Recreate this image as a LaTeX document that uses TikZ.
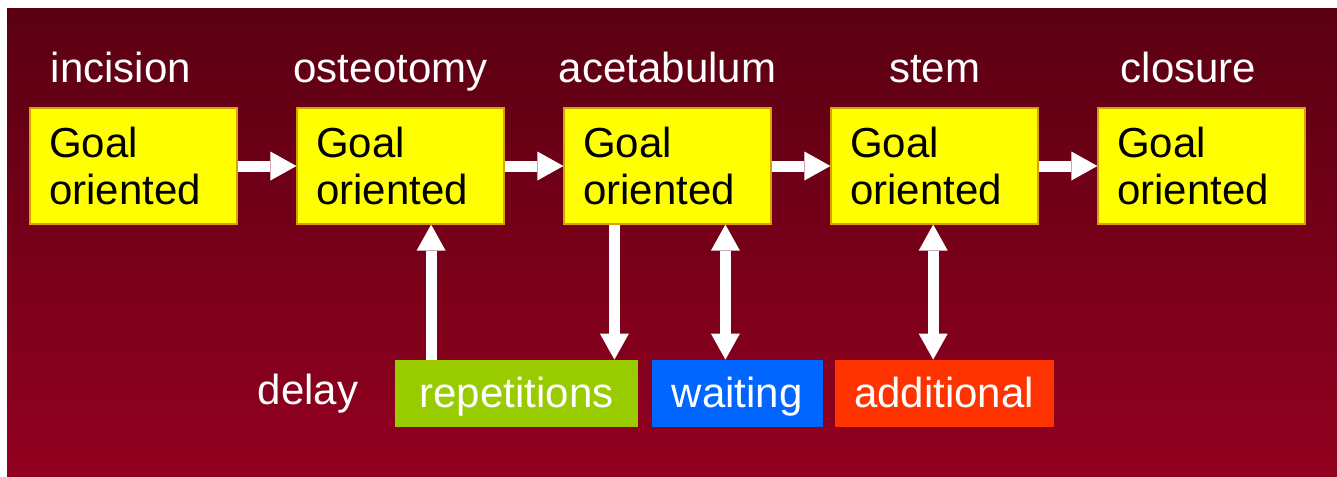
\documentclass[tikz,border=0pt]{standalone}
\usepackage{fontspec}
\setmainfont{Liberation Sans}
\usetikzlibrary{positioning,arrows.meta,calc}

\definecolor{bgtop}{HTML}{5A0012}
\definecolor{bgbot}{HTML}{940020}
\definecolor{goalfill}{HTML}{FFFF00}
\definecolor{goaledge}{HTML}{D9A000}
\definecolor{repgreen}{HTML}{99CC00}
\definecolor{waitblue}{HTML}{0066FF}
\definecolor{addred}{HTML}{FF3300}

\newcommand\slidefont{\fontsize{21}{23.5}\selectfont}

\tikzset{
  goal/.style={draw=goaledge, fill=goalfill, line width=0.6pt,
    minimum width=103.5pt, minimum height=58pt, text width=84.5pt,
    inner xsep=9.5pt, align=left, font=\slidefont},
  ttl/.style={text=white, inner sep=0pt, anchor=base, font=\slidefont},
  lbl/.style={text=white, inner sep=0pt, font=\slidefont},
  delaybox/.style={minimum height=33.5pt, text height=16.5pt, text depth=3pt,
    inner sep=0pt, text=white, font=\slidefont},
  fat/.style={draw=white, line width=5.5pt,
    -{Triangle[width=14.5pt,length=13pt,line width=0pt]}},
  fatboth/.style={draw=white, line width=5.5pt,
    {Triangle[width=14.5pt,length=13pt,line width=0pt]}-{Triangle[width=14.5pt,length=13pt,line width=0pt]}}
}

\begin{document}
\begin{tikzpicture}[x=0.5pt,y=-0.5pt]
\useasboundingbox (0,0) rectangle (1337,476);

% background
\shade[top color=bgtop, bottom color=bgbot] (7,9) rectangle (1350,490);

% the five steps
\foreach \i in {1,...,5}
  \node[goal] (g\i) at ({133.5+267*(\i-1)},166) {Goal\\oriented};

\foreach \n/\t/\dx in {1/incision/-12.5, 2/osteotomy/-10, 3/acetabulum/0, 4/stem/0, 5/closure/-13}
  \node[ttl] (t\n) at ($(g\n.north)+(\dx,-25)$) {\t};

\foreach \a/\b in {g1/g2, g2/g3, g3/g4, g4/g5}
  \draw[fat] (\a) -- (\b);

% delay boxes
\node[delaybox, fill=repgreen, minimum width=121.5pt] (rep) at (516.5,393.5) {repetitions};
\node[delaybox, fill=waitblue, minimum width=85.5pt, right=6.5pt of rep] (wait) {waiting};
\node[delaybox, fill=addred, minimum width=109.5pt, right=5.5pt of wait] (add) {additional};
\node[lbl, left=18pt of rep] (delay) {delay};

\coordinate (r1) at ($(rep.north west)+(36.5,0)$);
\coordinate (r2) at ($(rep.north east)+(-24,0)$);
\coordinate (w1) at ($(wait.north west)+(74,0)$);
\coordinate (a1) at ($(add.north west)+(99,0)$);

\draw[fat] (r1) -- (r1 |- g2.south);
\draw[fat] (r2 |- g3.south) -- (r2);
\draw[fatboth] (w1) -- (w1 |- g3.south);
\draw[fatboth] (a1) -- (a1 |- g4.south);

\end{tikzpicture}
\end{document}
